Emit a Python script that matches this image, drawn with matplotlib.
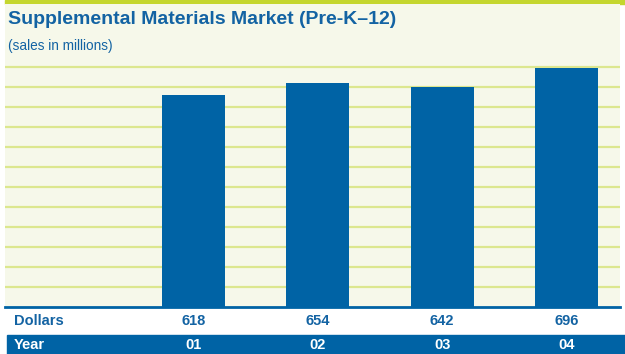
import numpy as np
import matplotlib
matplotlib.use('Agg')
import matplotlib.pyplot as plt
from matplotlib.patches import Rectangle

# 数据
years = ['01', '02', '03', '04']
dollars = [618, 654, 642, 696]

title = 'Supplemental Materials Market (Pre-K\u201312)'
subtitle = '(sales in millions)'

# 颜色
bar_blue = '#0063a5'
text_blue = '#1363a3'
panel_bg = '#f6f8ea'
grid_green = '#dce78f'
top_green = '#c4d62e'

fam = ['Liberation Sans Narrow', 'Liberation Sans', 'DejaVu Sans']
plt.rcParams['font.family'] = fam

W, H = 625, 354
fig = plt.figure(figsize=(W / 100, H / 100), dpi=100)
fig.patch.set_facecolor('white')


def px(x0, y0, x1, y1):
    """像素坐标 -> figure 坐标 [left, bottom, width, height]"""
    return [x0 / W, 1 - y1 / H, (x1 - x0) / W, (y1 - y0) / H]


# 顶部绿条
fig.patches.append(Rectangle((5 / W, 1 - 4 / H), 620 / W, 4 / H,
                             transform=fig.transFigure, color=top_green, zorder=0))
# Year 行蓝色条
fig.patches.append(Rectangle((7 / W, 0), 618 / W, 19 / H,
                             transform=fig.transFigure, color=bar_blue, zorder=0))

# 主图
ax = fig.add_axes(px(5, 4, 620, 307))
ax.set_zorder(2)
ax.set_facecolor(panel_bg)
x = np.arange(len(years))
ax.bar(x, dollars, width=0.507, color=bar_blue, zorder=3)
ax.set_xlim(-1.516, 3.43)
ax.set_ylim(0, 883)

# 网格线
step = 700 / 12
for k in range(1, 13):
    ax.axhline(k * step, xmin=0.002, xmax=1, color=grid_green, lw=1.6, zorder=1)
ax.axhline(0, color=bar_blue, lw=2, zorder=4, clip_on=False)

for s in ax.spines.values():
    s.set_visible(False)
ax.set_xticks([])
ax.set_yticks([])

# 标题
fig.text(8 / W, 1 - 20 / H, title, fontsize=14, fontweight='bold',
         color=text_blue, va='center', ha='left', zorder=5)
fig.text(8 / W, 1 - 46 / H, subtitle, fontsize=9.8,
         color=text_blue, va='center', ha='left', zorder=5)

# 表格行
fig.text(14 / W, 1 - 321 / H, 'Dollars', fontsize=10.5, fontweight='bold',
         color=text_blue, va='center', ha='left')
fig.text(14 / W, 1 - 345 / H, 'Year', fontsize=10.5, fontweight='bold',
         color='white', va='center', ha='left')
for xi, d, yr in zip(x, dollars, years):
    xf = fig.transFigure.inverted().transform(ax.transData.transform((xi, 0)))[0]
    fig.text(xf, 1 - 321 / H, str(d), fontsize=10.5, fontweight='bold',
             color=text_blue, va='center', ha='center')
    fig.text(xf, 1 - 345 / H, yr, fontsize=10.5, fontweight='bold',
             color='white', va='center', ha='center')

fig.savefig('out.png', dpi=100, facecolor='white')
